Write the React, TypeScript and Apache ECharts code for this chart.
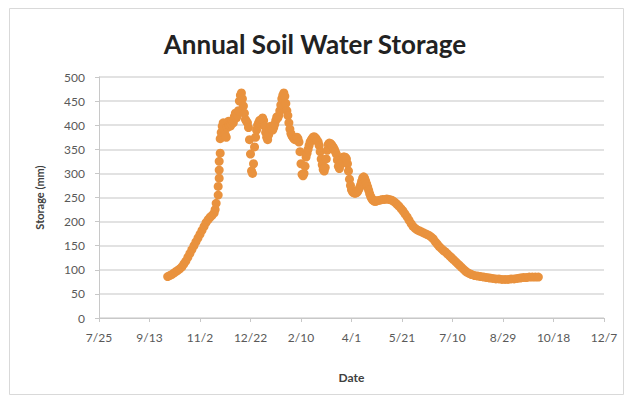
import React, { useEffect, useRef } from "react";
import * as echarts from "echarts";

const tickLabels = ["7/25", "9/13", "11/2", "12/22", "2/10", "4/1", "5/21", "7/10", "8/29", "10/18", "12/7"];

// days since 7/25
const days = [
  68, 70, 72, 74, 76, 78, 80, 82, 84, 86, 88, 90, 92, 94, 96, 98, 100, 102, 104, 106, 108, 110, 112, 114, 115, 116,
  118, 118, 119, 119, 119, 120,
  120, 121, 122, 123, 124, 125, 126, 127, 128, 129, 130, 131, 132, 133, 134, 135, 136, 137, 138, 139, 140, 141, 142, 143, 144, 145, 146, 147, 148, 149,
  150, 151, 152, 153, 154, 155, 156, 157, 158, 159, 160, 161, 162, 163, 164, 165, 166, 167, 168, 169, 170, 171, 172, 173, 174, 175, 176, 177, 178, 179,
  180, 181, 182, 183, 184, 185, 186, 187, 188, 189, 190, 191, 192, 193, 194, 195, 196, 197, 198, 199, 200, 201, 202, 203, 204, 205, 206, 207, 208, 209,
  210, 211, 212, 213, 214, 215, 216, 217, 218, 219, 220, 221, 222, 223, 224, 225, 226, 227, 228, 229, 230, 231, 232, 233, 234, 235, 236, 237, 238, 239,
  240, 241, 242, 243, 244, 245, 246, 247, 248, 249, 250, 251, 252, 253, 254, 255, 256, 257, 258, 259, 260, 261, 262, 263, 264, 265, 266, 267, 268, 269,
  270, 271, 272, 273, 274, 275, 277, 279, 281, 283, 285, 287, 289, 291, 293, 295, 297, 299, 301, 303, 305, 307, 309, 311, 313, 315, 317, 319, 321, 323,
  325, 327, 329, 331, 333, 335, 337, 339, 341, 343, 345, 347, 349, 351, 353, 355, 357, 359, 361, 363, 365, 367, 369, 372, 375, 378, 381, 384, 387, 390,
  393, 396, 399, 402, 405, 408, 411, 414, 417, 420, 423, 426, 429, 432, 435,
];

// soil water storage, mm
const storage = [
  86, 88, 90, 93, 96, 99, 102, 106, 112, 118, 126, 134, 142, 150, 158, 166, 174, 182, 190, 198, 204, 209, 213, 218, 225, 238,
  255, 273, 290, 307, 325, 342,
  372, 385, 398, 405, 392, 380, 375, 395, 408, 400, 398, 402, 410, 405, 418, 425, 415, 420, 430, 450, 462, 467, 455, 440, 425, 412, 408, 405, 395, 370,
  340, 305, 300, 320, 355, 375, 390, 400, 405, 410, 408, 412, 415, 410, 398, 385, 375, 370, 380, 392, 398, 392, 390, 395, 402, 410, 417, 415, 420, 430,
  442, 455, 462, 467, 460, 445, 430, 420, 405, 392, 383, 378, 375, 372, 370, 372, 375, 372, 365, 345, 320, 298, 295, 300, 315, 334, 342, 350, 358, 365,
  369, 372, 375, 376, 374, 372, 368, 365, 358, 345, 330, 318, 308, 305, 312, 330, 348, 360, 363, 362, 360, 357, 354, 350, 345, 340, 328, 315, 310, 318,
  326, 332, 334, 334, 333, 330, 320, 305, 288, 275, 266, 262, 260, 259, 259, 260, 262, 266, 270, 276, 283, 290, 293, 290, 284, 278, 272, 265, 258, 252,
  248, 245, 243, 242, 242, 243, 244, 245, 246, 246, 247, 246, 245, 243, 240, 236, 232, 227, 222, 216, 210, 203, 196, 190, 186, 183, 181, 179, 177, 175,
  173, 171, 168, 164, 158, 153, 148, 144, 140, 137, 133, 129, 125, 121, 117, 113, 109, 105, 101, 97, 94, 92, 90, 88, 87, 86, 85, 84, 83, 82,
  81, 81, 80, 80, 80, 81, 81, 82, 83, 84, 84, 85, 85, 85, 85,
];

const FONT = "Lato, 'Open Sans', sans-serif";

export default function App() {
  const ref = useRef<HTMLDivElement>(null);
  useEffect(() => {
    document.body.style.margin = "0";
    const chart = echarts.init(ref.current!, null, { renderer: "svg" });
    const points = days.map((d, i) => [d, storage[i]]);
    chart.setOption({
      animation: false,
      backgroundColor: "#ffffff",
      title: {
        text: "Annual Soil Water Storage",
        left: "center",
        top: 26,
        textStyle: { fontFamily: FONT, fontWeight: "bold", fontSize: 26, color: "#222222" },
      },
      graphic: [
        {
          type: "rect",
          shape: { x: 9.5, y: 8.5, width: 614, height: 386 },
          style: { fill: "none", stroke: "#d9d9d9", lineWidth: 1 },
          silent: true,
        },
      ],
      grid: { left: 99, right: 26, top: 77, bottom: 82 },
      xAxis: {
        type: "value",
        min: 0,
        max: 500,
        interval: 50,
        name: "Date",
        nameLocation: "middle",
        nameGap: 53,
        nameTextStyle: { fontFamily: FONT, fontWeight: "bold", fontSize: 12, color: "#404040" },
        axisLine: { show: true, lineStyle: { color: "#c8c8c8" } },
        axisTick: { show: true, length: 4, lineStyle: { color: "#c8c8c8" } },
        axisLabel: {
          margin: 13,
          fontFamily: FONT,
          fontSize: 12,
          color: "#595959",
          formatter: (v: number) => tickLabels[Math.round(v / 50)] ?? "",
        },
        splitLine: { show: false },
      },
      yAxis: {
        type: "value",
        min: 0,
        max: 500,
        interval: 50,
        name: "Storage (mm)",
        nameLocation: "middle",
        nameGap: 54,
        nameRotate: 90,
        nameTextStyle: { fontFamily: FONT, fontWeight: "bold", fontSize: 11, color: "#404040" },
        axisLine: { show: true, lineStyle: { color: "#c8c8c8" } },
        axisTick: { show: true, length: 4, lineStyle: { color: "#c8c8c8" } },
        axisLabel: { margin: 14, fontFamily: FONT, fontSize: 12, color: "#595959" },
        splitLine: { show: true, lineStyle: { color: "#d9d9d9", width: 1.5 } },
      },
      series: [
        {
          type: "scatter",
          data: points,
          symbol: "circle",
          symbolSize: 9,
          itemStyle: { color: "#E9923E", opacity: 1 },
        },
      ],
    });
    return () => chart.dispose();
  }, []);
  return <div ref={ref} style={{ width: 630, height: 400 }} />;
}
